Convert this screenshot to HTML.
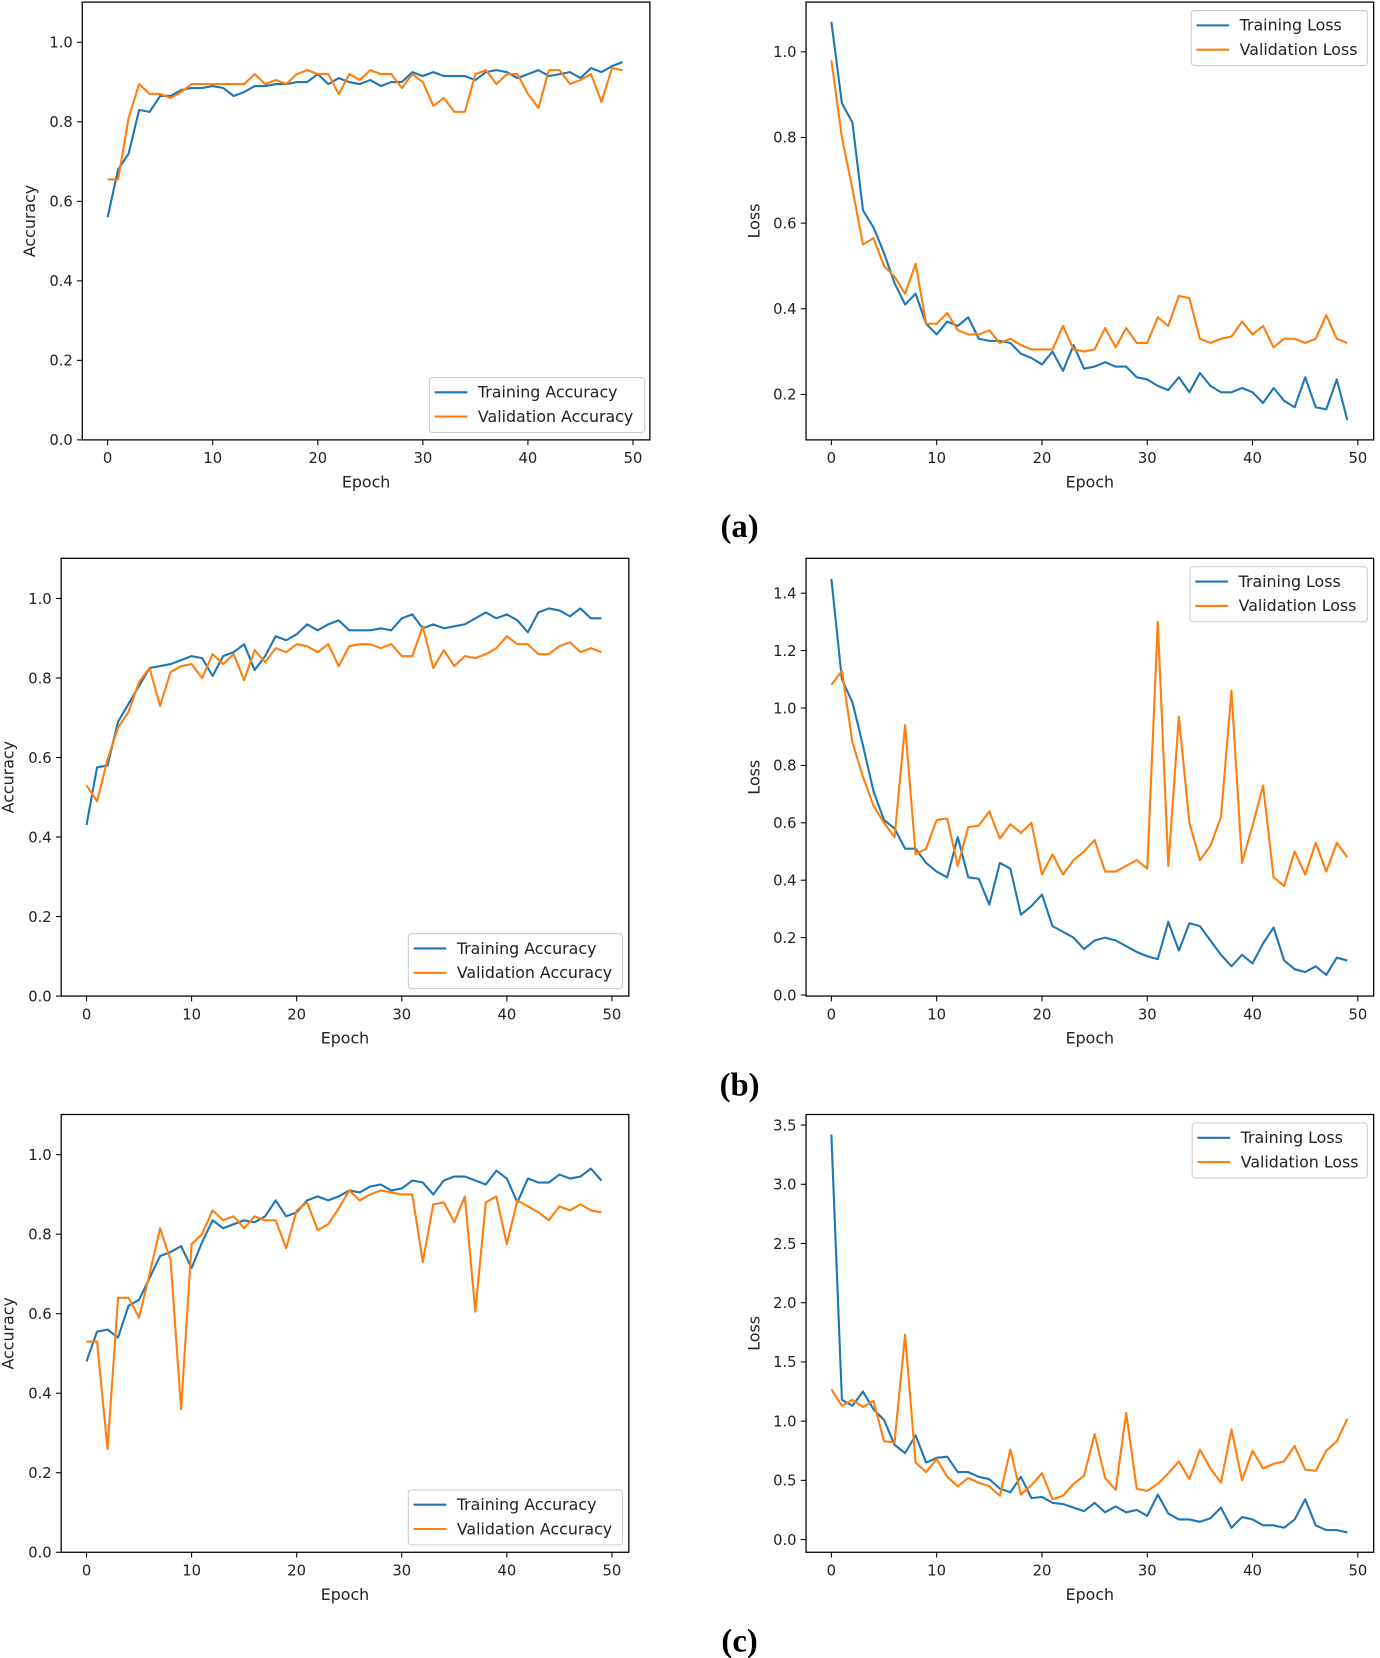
<!DOCTYPE html>
<html><head><meta charset="utf-8"><style>
html,body{margin:0;padding:0;background:#fff;}
svg{display:block;}
text{font-family:"DejaVu Sans","Liberation Sans",sans-serif;fill:#222;}
</style></head><body>
<svg id="fig" width="1380" height="1658" viewBox="0 0 1308 1568" preserveAspectRatio="none" xmlns="http://www.w3.org/2000/svg"></svg>
<script>
const epochs = Array.from({length:50},(_,i)=>i);
const xTicks = [0,10,20,30,40,50];
const accTicks = [0.0,0.2,0.4,0.6,0.8,1.0];
const lossTicksA = [0.2,0.4,0.6,0.8,1.0];
const lossTicksB = [0.0,0.2,0.4,0.6,0.8,1.0,1.2,1.4];
const lossTicksC = [0.0,0.5,1.0,1.5,2.0,2.5,3.0,3.5];

const aTrainAcc = [0.56,0.68,0.72,0.83,0.825,0.865,0.865,0.88,0.885,0.885,0.89,0.885,0.865,0.875,0.89,0.89,0.895,0.895,0.9,0.9,0.92,0.895,0.91,0.9,0.895,0.905,0.89,0.9,0.9,0.925,0.915,0.925,0.915,0.915,0.915,0.905,0.925,0.93,0.925,0.91,0.92,0.93,0.915,0.92,0.925,0.91,0.935,0.925,0.94,0.95];
const aValAcc = [0.655,0.655,0.81,0.895,0.87,0.87,0.86,0.875,0.895,0.895,0.895,0.895,0.895,0.895,0.92,0.895,0.905,0.895,0.92,0.93,0.92,0.92,0.87,0.92,0.905,0.93,0.92,0.92,0.885,0.92,0.9,0.84,0.86,0.825,0.825,0.92,0.93,0.895,0.92,0.92,0.87,0.835,0.93,0.93,0.895,0.905,0.92,0.85,0.935,0.93];
const aTrainLoss = [1.07,0.88,0.835,0.63,0.59,0.53,0.46,0.41,0.435,0.365,0.34,0.37,0.36,0.38,0.33,0.325,0.325,0.32,0.295,0.285,0.27,0.3,0.255,0.315,0.26,0.265,0.275,0.265,0.265,0.24,0.235,0.22,0.21,0.24,0.205,0.25,0.22,0.205,0.205,0.215,0.205,0.18,0.215,0.185,0.17,0.24,0.17,0.165,0.235,0.14];
const aValLoss = [0.98,0.8,0.68,0.55,0.565,0.5,0.475,0.435,0.505,0.365,0.365,0.39,0.35,0.34,0.34,0.35,0.32,0.33,0.315,0.305,0.305,0.305,0.36,0.305,0.3,0.305,0.355,0.31,0.355,0.32,0.32,0.38,0.36,0.43,0.425,0.33,0.32,0.33,0.335,0.37,0.34,0.36,0.31,0.33,0.33,0.32,0.33,0.385,0.33,0.32];
const bTrainAcc = [0.43,0.575,0.58,0.69,0.735,0.78,0.825,0.83,0.835,0.845,0.855,0.85,0.805,0.855,0.865,0.885,0.82,0.855,0.905,0.895,0.91,0.935,0.92,0.935,0.945,0.92,0.92,0.92,0.925,0.92,0.95,0.96,0.925,0.935,0.925,0.93,0.935,0.95,0.965,0.95,0.96,0.945,0.915,0.965,0.975,0.97,0.955,0.975,0.95,0.95];
const bValAcc = [0.53,0.49,0.595,0.675,0.715,0.79,0.825,0.73,0.815,0.83,0.835,0.8,0.86,0.835,0.86,0.795,0.87,0.84,0.875,0.865,0.885,0.88,0.865,0.885,0.83,0.88,0.885,0.885,0.875,0.885,0.855,0.855,0.93,0.825,0.87,0.83,0.855,0.85,0.86,0.875,0.905,0.885,0.885,0.86,0.86,0.88,0.89,0.865,0.875,0.865];
const bTrainLoss = [1.45,1.1,1.02,0.87,0.71,0.61,0.58,0.51,0.51,0.46,0.43,0.41,0.55,0.41,0.405,0.315,0.46,0.44,0.28,0.31,0.35,0.24,0.22,0.2,0.16,0.19,0.2,0.19,0.17,0.15,0.135,0.125,0.255,0.155,0.25,0.24,0.19,0.14,0.1,0.14,0.11,0.18,0.235,0.12,0.09,0.08,0.1,0.07,0.13,0.12];
const bValLoss = [1.08,1.13,0.88,0.76,0.66,0.6,0.55,0.94,0.49,0.51,0.61,0.615,0.45,0.585,0.59,0.64,0.545,0.595,0.565,0.6,0.42,0.49,0.42,0.47,0.5,0.54,0.43,0.43,0.45,0.47,0.44,1.3,0.45,0.97,0.6,0.47,0.52,0.62,1.06,0.46,0.59,0.73,0.41,0.38,0.5,0.42,0.53,0.43,0.53,0.48];
const cTrainAcc = [0.48,0.555,0.56,0.54,0.62,0.635,0.69,0.745,0.755,0.77,0.715,0.78,0.835,0.815,0.825,0.835,0.83,0.845,0.885,0.845,0.855,0.885,0.895,0.885,0.895,0.91,0.905,0.92,0.925,0.91,0.915,0.935,0.93,0.9,0.935,0.945,0.945,0.935,0.925,0.96,0.94,0.88,0.94,0.93,0.93,0.95,0.94,0.945,0.965,0.935];
const cValAcc = [0.53,0.53,0.26,0.64,0.64,0.59,0.7,0.815,0.735,0.36,0.775,0.8,0.86,0.835,0.845,0.815,0.845,0.835,0.835,0.765,0.86,0.88,0.81,0.825,0.865,0.91,0.885,0.9,0.91,0.905,0.9,0.9,0.73,0.875,0.88,0.83,0.895,0.605,0.88,0.895,0.775,0.885,0.87,0.855,0.835,0.87,0.86,0.875,0.86,0.855];
const cTrainLoss = [3.42,1.18,1.13,1.25,1.1,1.01,0.8,0.73,0.88,0.65,0.69,0.7,0.57,0.57,0.53,0.51,0.43,0.4,0.53,0.35,0.36,0.31,0.3,0.27,0.24,0.31,0.23,0.28,0.23,0.25,0.2,0.38,0.22,0.17,0.17,0.15,0.18,0.27,0.1,0.19,0.17,0.12,0.12,0.1,0.17,0.34,0.12,0.08,0.08,0.06];
const cValLoss = [1.27,1.13,1.18,1.12,1.17,0.83,0.82,1.73,0.65,0.57,0.68,0.53,0.45,0.52,0.48,0.45,0.37,0.76,0.38,0.46,0.56,0.34,0.37,0.47,0.54,0.89,0.52,0.42,1.07,0.43,0.41,0.47,0.56,0.66,0.51,0.76,0.6,0.48,0.93,0.5,0.75,0.6,0.64,0.66,0.79,0.59,0.58,0.75,0.83,1.02];

const NS="http://www.w3.org/2000/svg";
const svg=document.getElementById('fig');
function mk(tag,attrs,parent){const e=document.createElementNS(NS,tag);for(const k in attrs)e.setAttribute(k,attrs[k]);(parent||svg).appendChild(e);return e;}

function panel(o){
  const g=mk('g',{});
  
  
  const xS=v=>o.x0+(v-0)*(o.x50-o.x0)/50;
  const yS=v=>o.yA+(v-o.vA)*(o.yB-o.yA)/(o.vB-o.vA);
  [[o.train,'#1f77b4','training-line'],[o.val,'#ff7f0e','validation-line']].forEach(([arr,col,nm])=>{
    const p=mk('polyline',{points:arr.map((v,i)=>xS(epochs[i])+','+yS(v)).join(' '),fill:'none',stroke:col,'stroke-width':2,'stroke-linejoin':'round'},g);
    
    
  });
  const fr=mk('rect',{x:o.L,y:o.T,width:o.R-o.L,height:o.B-o.T,fill:'none',stroke:'#000','stroke-width':1.2},g);
  
  
  xTicks.forEach(t=>{
    const x=xS(t);
    mk('line',{x1:x,x2:x,y1:o.B,y2:o.B+5,stroke:'#000'},g);
    const tx=mk('text',{x:x,y:o.B+22,'font-size':14,'text-anchor':'middle'},g);tx.textContent=t;
    
    
  });
  o.yt.forEach(t=>{
    const y=yS(t);
    mk('line',{x1:o.L-5,x2:o.L,y1:y,y2:y,stroke:'#000'},g);
    const tx=mk('text',{x:o.L-9,y:y+5,'font-size':14,'text-anchor':'end'},g);tx.textContent=t.toFixed(1);
    
    
  });
  const xl=mk('text',{x:(o.L+o.R)/2,y:o.B+45,'font-size':15,'text-anchor':'middle'},g);xl.textContent='Epoch';
  
  
  const yl=mk('text',{x:0,y:0,'font-size':15,'text-anchor':'middle',transform:`translate(${o.ylx},${(o.T+o.B)/2}) rotate(-90)`},g);yl.textContent=o.ylab;
  
  
  const lg=mk('g',{},g);
  
  
  mk('rect',{x:o.lx,y:o.ly,width:o.lw,height:52,rx:3,fill:'#fff',stroke:'#ccc'},lg);
  [['Training '+o.lab,'#1f77b4'],['Validation '+o.lab,'#ff7f0e']].forEach(([s,c],i)=>{
    const yy=o.ly+14+i*23;
    mk('line',{x1:o.lx+5,x2:o.lx+36,y1:yy,y2:yy,stroke:c,'stroke-width':2},lg);
    const t=mk('text',{x:o.lx+46,y:yy+5,'font-size':15},lg);t.textContent=s;
    
    
  });
}

panel({name:'panel-a-accuracy',L:78,R:616,T:2,B:416,x0:102,x50:600,yA:416,vA:0,yB:40,vB:1,yt:accTicks,train:aTrainAcc,val:aValAcc,ylab:'Accuracy',ylx:33,lab:'Accuracy',lx:407,ly:357,lw:204});
panel({name:'panel-a-loss',L:764,R:1302,T:2,B:416,x0:788,x50:1287,yA:373,vA:0.2,yB:49,vB:1.0,yt:lossTicksA,train:aTrainLoss,val:aValLoss,ylab:'Loss',ylx:720,lab:'Loss',lx:1129,ly:10,lw:167});
panel({name:'panel-b-accuracy',L:58,R:596,T:528,B:942,x0:82,x50:580,yA:942,vA:0,yB:566,vB:1,yt:accTicks,train:bTrainAcc,val:bValAcc,ylab:'Accuracy',ylx:13,lab:'Accuracy',lx:387,ly:883,lw:203});
panel({name:'panel-b-loss',L:764,R:1302,T:528,B:942,x0:788,x50:1287,yA:941,vA:0,yB:561,vB:1.4,yt:lossTicksB,train:bTrainLoss,val:bValLoss,ylab:'Loss',ylx:720,lab:'Loss',lx:1128,ly:536,lw:168});
panel({name:'panel-c-accuracy',L:58,R:596,T:1054,B:1468,x0:82,x50:580,yA:1468,vA:0,yB:1092,vB:1,yt:accTicks,train:cTrainAcc,val:cValAcc,ylab:'Accuracy',ylx:13,lab:'Accuracy',lx:387,ly:1409,lw:203});
panel({name:'panel-c-loss',L:764,R:1302,T:1054,B:1468,x0:788,x50:1287,yA:1456,vA:0,yB:1064,vB:3.5,yt:lossTicksC,train:cTrainLoss,val:cValLoss,ylab:'Loss',ylx:720,lab:'Loss',lx:1130,ly:1062,lw:166});

[['(a)',508,'caption-a'],['(b)',1036,'caption-b'],['(c)',1562,'caption-c']].forEach(([s,y,n])=>{
  const t=mk('text',{x:701,y:y,'font-size':31,'font-weight':'bold','text-anchor':'middle',style:'font-family:"Liberation Serif",serif;fill:#000'});
  t.textContent=s;
  
  
});
</script>
</body></html>
